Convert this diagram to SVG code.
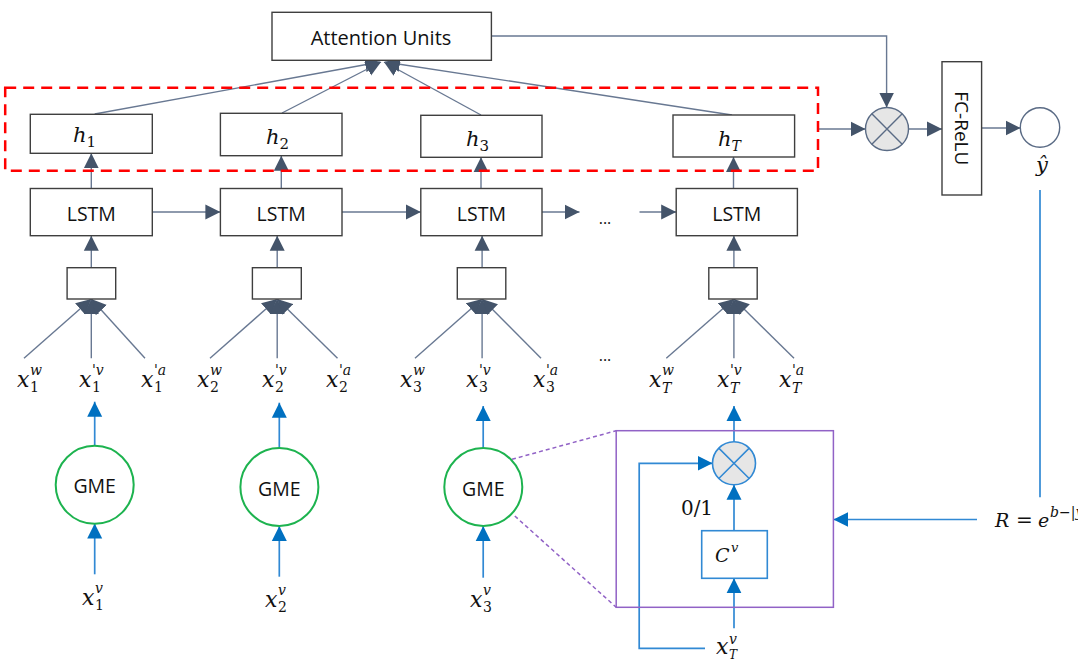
<svg xmlns="http://www.w3.org/2000/svg" width="1078" height="660" viewBox="0 0 1078 660">
<style>
.box{fill:#fff;stroke:#3f3f3f;stroke-width:1.4}
.lbl{font-family:'Open Sans','Liberation Sans',sans-serif;fill:#111;text-anchor:middle}
.m{font-family:'DejaVu Serif','Liberation Serif',serif;font-style:italic;fill:#111}
.up{font-style:normal}
.s{font-size:14px}
.conn{stroke:#687892;stroke-width:1.4;fill:none}
.bl{stroke:#3189D4;stroke-width:1.7;fill:none}
.gme{fill:#fff;stroke:#1DB34F;stroke-width:2}
.pur{stroke:#9162C6;stroke-width:1.5;fill:none}
</style>
<defs>
<marker id="ad" markerUnits="userSpaceOnUse" markerWidth="16" markerHeight="16" viewBox="0 0 16 16" refX="15" refY="8" orient="auto"><path d="M0,0.5 L15,8 L0,15.5 z" fill="#44546A"/></marker>
<marker id="ab" markerUnits="userSpaceOnUse" markerWidth="16" markerHeight="16" viewBox="0 0 16 16" refX="15" refY="8" orient="auto"><path d="M0,0.5 L15,8 L0,15.5 z" fill="#0070C0"/></marker>
</defs>

<g id="connectors">
<line class="conn" x1="94.7" y1="114" x2="380" y2="62" marker-end="url(#ad)"/>
<line class="conn" x1="282" y1="113" x2="381" y2="62" marker-end="url(#ad)"/>
<line class="conn" x1="481" y1="115" x2="384" y2="62" marker-end="url(#ad)"/>
<line class="conn" x1="732" y1="115" x2="385" y2="62" marker-end="url(#ad)"/>
<path class="conn" d="M491,36 H886.6 V107.5" marker-end="url(#ad)"/>
<line class="conn" x1="818" y1="129" x2="865.5" y2="129" marker-end="url(#ad)"/>
<line class="conn" x1="908.5" y1="129" x2="942" y2="129" marker-end="url(#ad)"/>
<line class="conn" x1="981.6" y1="128" x2="1020.5" y2="128" marker-end="url(#ad)"/>
<line class="conn" x1="91.3" y1="188.5" x2="91.3" y2="153.3" marker-end="url(#ad)"/>
<line class="conn" x1="281.3" y1="188.5" x2="281.3" y2="155.7" marker-end="url(#ad)"/>
<line class="conn" x1="481" y1="188.5" x2="481" y2="157.3" marker-end="url(#ad)"/>
<line class="conn" x1="733.5" y1="188.5" x2="733.5" y2="157" marker-end="url(#ad)"/>
<line class="conn" x1="152.3" y1="212" x2="220.4" y2="212" marker-end="url(#ad)"/>
<line class="conn" x1="342" y1="212" x2="420.8" y2="212" marker-end="url(#ad)"/>
<line class="conn" x1="542" y1="212" x2="579.5" y2="212" marker-end="url(#ad)"/>
<line class="conn" x1="639.5" y1="212" x2="676.2" y2="212" marker-end="url(#ad)"/>
<line class="conn" x1="91.3" y1="267.7" x2="91.3" y2="235.7" marker-end="url(#ad)"/>
<line class="conn" x1="277.2" y1="267.7" x2="277.2" y2="235.7" marker-end="url(#ad)"/>
<line class="conn" x1="482.1" y1="267.7" x2="482.1" y2="235.7" marker-end="url(#ad)"/>
<line class="conn" x1="733.9" y1="267.7" x2="733.9" y2="235.7" marker-end="url(#ad)"/>
<line class="conn" x1="24" y1="358.3" x2="91.3" y2="299" marker-end="url(#ad)"/>
<line class="conn" x1="91.3" y1="358.3" x2="91.3" y2="299" marker-end="url(#ad)"/>
<line class="conn" x1="145" y1="358.3" x2="91.3" y2="299" marker-end="url(#ad)"/>
<line class="conn" x1="210" y1="358.3" x2="277.2" y2="299" marker-end="url(#ad)"/>
<line class="conn" x1="277.2" y1="358.3" x2="277.2" y2="299" marker-end="url(#ad)"/>
<line class="conn" x1="337.5" y1="358.3" x2="277.2" y2="299" marker-end="url(#ad)"/>
<line class="conn" x1="415" y1="358.3" x2="482.1" y2="299" marker-end="url(#ad)"/>
<line class="conn" x1="482.1" y1="358.3" x2="482.1" y2="299" marker-end="url(#ad)"/>
<line class="conn" x1="541" y1="358.3" x2="482.1" y2="299" marker-end="url(#ad)"/>
<line class="conn" x1="666.3" y1="358.3" x2="733.9" y2="299" marker-end="url(#ad)"/>
<line class="conn" x1="733.9" y1="358.3" x2="733.9" y2="299" marker-end="url(#ad)"/>
<line class="conn" x1="794" y1="358.3" x2="733.9" y2="299" marker-end="url(#ad)"/>
<line class="bl" x1="94.7" y1="446" x2="94.7" y2="401.7" marker-end="url(#ab)"/>
<line class="bl" x1="279.3" y1="448" x2="279.3" y2="402.7" marker-end="url(#ab)"/>
<line class="bl" x1="483.2" y1="448" x2="483.2" y2="406" marker-end="url(#ab)"/>
<line class="bl" x1="94.7" y1="574.3" x2="94.7" y2="523.5" marker-end="url(#ab)"/>
<line class="bl" x1="279.3" y1="576.7" x2="279.3" y2="526" marker-end="url(#ab)"/>
<line class="bl" x1="483.2" y1="577.7" x2="483.2" y2="526" marker-end="url(#ab)"/>
<line class="pur" x1="512" y1="459.3" x2="616.2" y2="430.7" stroke-dasharray="4 3" stroke-width="1.3"/>
<line class="pur" x1="514.8" y1="516" x2="616.2" y2="607.3" stroke-dasharray="4 3" stroke-width="1.3"/>
<line class="bl" x1="734" y1="441.8" x2="734" y2="406" marker-end="url(#ab)"/>
<line class="bl" x1="734" y1="530.7" x2="734" y2="484.8" marker-end="url(#ab)"/>
<line class="bl" x1="734" y1="628.3" x2="734" y2="578.3" marker-end="url(#ab)"/>
<path class="bl" d="M705,648.3 H639.2 V463.3 H712.5" marker-end="url(#ab)"/>
<line class="bl" x1="1040" y1="190" x2="1040" y2="497.3"/>
<line class="bl" x1="977" y1="519.5" x2="833.4" y2="519.5" marker-end="url(#ab)"/>
</g>

<g id="attention"><rect class="box" x="272" y="12.3" width="219.4" height="48"/><text class="lbl" x="381" y="45" font-size="20">Attention Units</text></g>

<rect id="hidden-group" x="5.2" y="87.7" width="812.8" height="83" fill="none" stroke="#FF0000" stroke-width="2.5" stroke-dasharray="11 7"/>

<g id="h1"><rect class="box" x="30.3" y="114.3" width="122" height="39"/><text class="m" font-size="21"><tspan x="73" y="142">h</tspan><tspan class="up" x="86.5" y="147" font-size="15">1</tspan></text></g>
<g id="h2"><rect class="box" x="220.4" y="113.3" width="121.6" height="42.4"/><text class="m" font-size="21"><tspan x="266" y="144">h</tspan><tspan class="up" x="279.5" y="149" font-size="15">2</tspan></text></g>
<g id="h3"><rect class="box" x="420.8" y="115.3" width="121.2" height="42"/><text class="m" font-size="21"><tspan x="466" y="146">h</tspan><tspan class="up" x="479.5" y="151" font-size="15">3</tspan></text></g>
<g id="hT"><rect class="box" x="673" y="115" width="121.6" height="42"/><text class="m" font-size="21"><tspan x="718" y="145.5">h</tspan><tspan x="731.5" y="150.5" font-size="14">T</tspan></text></g>

<g id="lstm1"><rect class="box" x="30.3" y="188.5" width="122" height="47.2"/><text class="lbl" x="91.3" y="220.7" font-size="19.5">LSTM</text></g>
<g id="lstm2"><rect class="box" x="220.4" y="188.5" width="121.6" height="47.2"/><text class="lbl" x="281.2" y="220.7" font-size="19.5">LSTM</text></g>
<g id="lstm3"><rect class="box" x="420.8" y="188.5" width="121.2" height="47.2"/><text class="lbl" x="481.4" y="220.7" font-size="19.5">LSTM</text></g>
<g id="lstmT"><rect class="box" x="676.2" y="188.5" width="121.2" height="47.2"/><text class="lbl" x="736.8" y="220.7" font-size="19.5">LSTM</text></g>
<text class="lbl" x="605" y="224" font-size="16">...</text>

<g id="fuse1"><rect class="box" x="67.1" y="267.7" width="48.6" height="31.3"/></g>
<g id="fuse2"><rect class="box" x="252.4" y="267.7" width="48.9" height="31.3"/></g>
<g id="fuse3"><rect class="box" x="457.3" y="267.7" width="48.5" height="31.3"/></g>
<g id="fuseT"><rect class="box" x="708.8" y="267.7" width="48.4" height="31.3"/></g>

<g id="inputs" class="m" font-size="22">
<text><tspan x="17" y="387">x</tspan><tspan x="30" y="375" class="s">w</tspan><tspan class="s up" x="30" y="392">1</tspan></text>
<text><tspan x="79" y="387">x</tspan><tspan x="92" y="375" class="s">'v</tspan><tspan class="s up" x="92" y="392">1</tspan></text>
<text><tspan x="141" y="387">x</tspan><tspan x="154" y="375" class="s">'a</tspan><tspan class="s up" x="154" y="392">1</tspan></text>
<text><tspan x="197" y="387">x</tspan><tspan x="210" y="375" class="s">w</tspan><tspan class="s up" x="210" y="392">2</tspan></text>
<text><tspan x="262" y="387">x</tspan><tspan x="275" y="375" class="s">'v</tspan><tspan class="s up" x="275" y="392">2</tspan></text>
<text><tspan x="326" y="387">x</tspan><tspan x="339" y="375" class="s">'a</tspan><tspan class="s up" x="339" y="392">2</tspan></text>
<text><tspan x="400" y="387">x</tspan><tspan x="413" y="375" class="s">w</tspan><tspan class="s up" x="413" y="392">3</tspan></text>
<text><tspan x="466" y="387">x</tspan><tspan x="479" y="375" class="s">'v</tspan><tspan class="s up" x="479" y="392">3</tspan></text>
<text><tspan x="533" y="387">x</tspan><tspan x="546" y="375" class="s">'a</tspan><tspan class="s up" x="546" y="392">3</tspan></text>
<text><tspan x="649" y="387">x</tspan><tspan x="662" y="375" class="s">w</tspan><tspan class="s" x="662" y="393">T</tspan></text>
<text><tspan x="717" y="387">x</tspan><tspan x="730" y="375" class="s">'v</tspan><tspan class="s" x="730" y="393">T</tspan></text>
<text><tspan x="779" y="387">x</tspan><tspan x="792" y="375" class="s">'a</tspan><tspan class="s" x="792" y="393">T</tspan></text>
</g>
<text class="lbl" x="605" y="361" font-size="16">...</text>

<g id="gme1"><circle class="gme" cx="94.7" cy="484.8" r="39"/><text class="lbl" x="94.7" y="493.3" font-size="19.5">GME</text></g>
<g id="gme2"><circle class="gme" cx="279.4" cy="487" r="39"/><text class="lbl" x="279.4" y="495.5" font-size="19.5">GME</text></g>
<g id="gme3"><circle class="gme" cx="483.3" cy="487" r="39"/><text class="lbl" x="483.3" y="495.5" font-size="19.5">GME</text></g>

<g id="xv" class="m" font-size="22">
<text><tspan x="82" y="605">x</tspan><tspan x="95" y="593" class="s">v</tspan><tspan class="s up" x="95" y="610">1</tspan></text>
<text><tspan x="265" y="607">x</tspan><tspan x="278" y="595" class="s">v</tspan><tspan class="s up" x="278" y="612">2</tspan></text>
<text><tspan x="470" y="607">x</tspan><tspan x="483" y="595" class="s">v</tspan><tspan class="s up" x="483" y="612">3</tspan></text>
<text><tspan x="716" y="654">x</tspan><tspan x="729" y="644" class="s">v</tspan><tspan x="729" y="659" font-size="12">T</tspan></text>
</g>

<g id="gate">
<rect class="pur" x="616.2" y="430.7" width="217.2" height="176.6"/>
<g id="gate-mult"><circle cx="734" cy="463.3" r="21.5" fill="#E6E6E6" stroke="#3189D4" stroke-width="1.6"/><path d="M718.8,448.1 L749.2,478.5 M749.2,448.1 L718.8,478.5" stroke="#3189D4" stroke-width="1.5"/></g>
<g id="cv"><rect x="701.7" y="530.7" width="65.6" height="47.6" fill="#fff" stroke="#3189D4" stroke-width="1.6"/><text class="m" font-size="19"><tspan x="715" y="562">C</tspan><tspan x="731" y="552" font-size="13">v</tspan></text></g>
<text x="697" y="515" font-family="'DejaVu Serif','Liberation Serif',serif" font-size="20" text-anchor="middle" fill="#111">0/1</text>
</g>

<g id="mult"><circle cx="887" cy="129" r="21.5" fill="#E6E6E6" stroke="#5A6B85" stroke-width="1.4"/><path d="M871.8,113.8 L902.2,144.2 M902.2,113.8 L871.8,144.2" stroke="#5A6B85" stroke-width="1.4"/></g>
<g id="fc"><rect class="box" x="942" y="61.7" width="39.6" height="133.3"/><text class="lbl" font-size="19" transform="translate(955.3,128.3) rotate(90)" x="0" y="0">FC-ReLU</text></g>
<g id="out"><circle cx="1040" cy="127.5" r="19.7" fill="#fff" stroke="#5A6B85" stroke-width="1.4"/><text class="m" x="1042" y="172" font-size="21" text-anchor="middle">ŷ</text></g>

<g id="reward" class="m" font-size="19">
<text x="995" y="527">R</text>
<text class="up" x="1016" y="527" font-size="20">=</text>
<text x="1038" y="527">e</text>
<text x="1050" y="517" font-size="14">b<tspan class="up">−|</tspan>y<tspan class="up">−</tspan>ŷ<tspan class="up">|</tspan></text>
</g>
</svg>
